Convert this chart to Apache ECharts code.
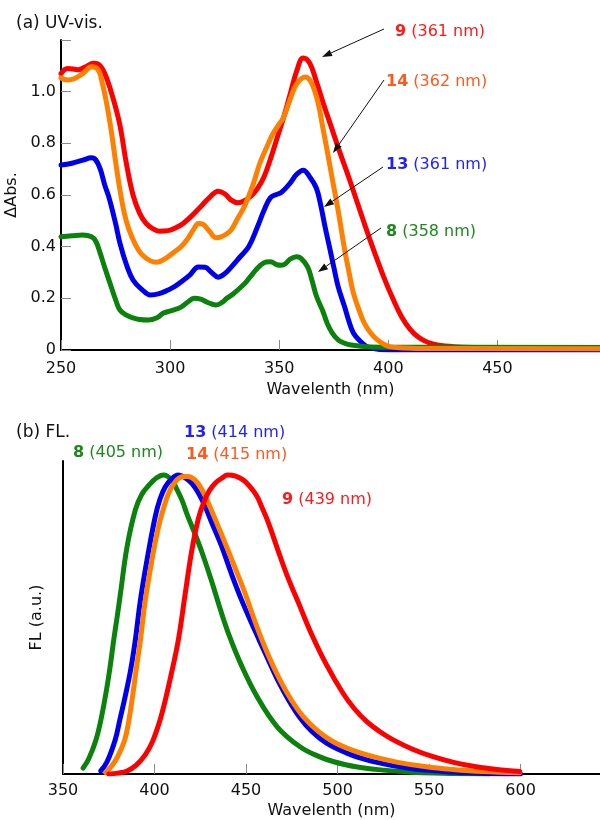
<!DOCTYPE html>
<html><head><meta charset="utf-8">
<script src="https://cdn.jsdelivr.net/npm/echarts@6/dist/echarts.min.js"></script>
<style>html,body{margin:0;padding:0;background:#fff}#c{width:600px;height:820px}</style>
</head><body><div id="c"></div>
<script>
// ---- Data (a) UV-vis: [wavelength nm, ΔAbs] ----
const uv9 = [[250,1.07],[253,1.09],[258,1.085],[261,1.095],[265,1.11],[268,1.10],[271,1.05],[274,0.97],[277,0.87],[280,0.72],[283,0.60],[286,0.53],[289,0.49],[292,0.47],[295,0.46],[299,0.462],[303,0.475],[306,0.49],[310,0.52],[314,0.555],[318,0.59],[322,0.615],[325,0.605],[328,0.58],[331,0.57],[334,0.578],[337,0.595],[340,0.625],[343,0.67],[346,0.74],[349,0.82],[352,0.90],[355,0.99],[358,1.08],[361,1.13],[364,1.11],[367,1.04],[370,0.96],[374,0.86],[378,0.76],[382,0.665],[386,0.565],[390,0.465],[394,0.37],[398,0.28],[402,0.20],[406,0.13],[410,0.08],[414,0.048],[418,0.03],[423,0.019],[430,0.013],[440,0.01],[460,0.008],[497,0.008]];
const uv14 = [[250,1.053],[253,1.045],[256,1.05],[260,1.07],[264,1.096],[267,1.085],[269,1.03],[271,0.95],[273,0.85],[275,0.73],[277,0.62],[279,0.53],[281,0.47],[284,0.41],[287,0.37],[291,0.345],[294,0.34],[298,0.355],[302,0.38],[305,0.40],[308,0.43],[311,0.47],[313,0.49],[315,0.487],[318,0.46],[321,0.435],[323,0.437],[326,0.45],[328,0.465],[331,0.51],[334,0.555],[338,0.64],[341,0.72],[344,0.78],[347,0.835],[350,0.875],[352,0.90],[355,0.97],[358,1.03],[362,1.057],[364,1.045],[366,1.01],[368,0.95],[370,0.86],[372,0.77],[374,0.677],[377,0.54],[380,0.387],[382,0.30],[384,0.22],[387,0.145],[389,0.104],[392,0.065],[395,0.039],[398,0.022],[401,0.012],[407,0.008],[413,0.006],[497,0.005]];
const uv13 = [[250,0.716],[255,0.723],[260,0.735],[264,0.744],[266,0.735],[268,0.70],[270,0.64],[272,0.59],[275,0.49],[277,0.414],[280,0.33],[283,0.271],[287,0.235],[291,0.213],[295,0.218],[299,0.232],[302,0.245],[305,0.263],[309,0.29],[313,0.321],[316,0.32],[319,0.30],[322,0.282],[325,0.295],[328,0.321],[332,0.36],[336,0.40],[340,0.476],[343,0.54],[346,0.59],[349,0.603],[351,0.61],[355,0.646],[358,0.68],[361,0.696],[364,0.67],[367,0.627],[369,0.561],[371,0.477],[373,0.40],[375,0.321],[377,0.245],[380,0.166],[382,0.11],[384,0.066],[387,0.035],[390,0.014],[394,0.005],[398,0.001],[406,0],[497,0]];
const uv8 = [[250,0.438],[255,0.442],[260,0.445],[264,0.438],[266,0.42],[268,0.374],[270,0.32],[273,0.245],[275,0.195],[277,0.155],[280,0.135],[283,0.124],[286,0.118],[290,0.116],[294,0.125],[297,0.143],[301,0.153],[305,0.166],[308,0.185],[311,0.2],[314,0.197],[317,0.185],[321,0.174],[324,0.185],[326,0.2],[329,0.218],[332,0.24],[335,0.265],[338,0.297],[341,0.325],[344,0.341],[346,0.342],[349,0.33],[351,0.328],[353,0.335],[355,0.352],[358,0.361],[360,0.355],[363,0.322],[365,0.27],[367,0.21],[370,0.15],[372,0.103],[374,0.07],[377,0.039],[380,0.026],[383,0.019],[390,0.013],[400,0.011],[497,0.01]];

// ---- Data (b) FL: [wavelength nm, normalized FL] ----
const fl8 = [[361,0.02],[364,0.05],[368,0.114],[371,0.19],[374,0.29],[376,0.37],[377.7,0.448],[379.6,0.526],[381.4,0.604],[385,0.76],[389.5,0.883],[393,0.935],[396.8,0.965],[401,0.99],[405,1.0],[409.5,0.983],[412,0.955],[415,0.916],[418,0.865],[422,0.805],[426,0.74],[431,0.649],[436,0.55],[441,0.46],[447,0.37],[456,0.259],[467,0.158],[479.5,0.091],[490,0.058],[498,0.041],[510,0.024],[525,0.013],[540,0.006],[552,0.003],[583,0]];
const fl13 = [[370.6,0.01],[374,0.04],[378.5,0.114],[381,0.18],[384,0.26],[387,0.35],[389.5,0.448],[392.3,0.582],[395.9,0.716],[400.4,0.861],[403,0.92],[405.9,0.961],[409,0.985],[413,1.0],[417,0.99],[420.4,0.972],[424,0.94],[427.7,0.894],[432,0.83],[436.8,0.76],[442,0.67],[447.7,0.58],[455,0.478],[461,0.397],[467,0.318],[473,0.25],[479.5,0.188],[486,0.142],[494,0.103],[505,0.07],[516,0.047],[530,0.028],[543,0.016],[557,0.009],[570,0.004],[585,0.001],[600,0]];
const fl14 = [[373.3,0.005],[377,0.03],[380,0.06],[383.7,0.114],[386,0.18],[388,0.26],[390,0.35],[392.3,0.448],[395,0.582],[398.6,0.716],[402.2,0.827],[405,0.89],[407.7,0.939],[411,0.975],[415,0.994],[418,0.995],[422.2,0.983],[426,0.95],[429.5,0.905],[434,0.84],[438.6,0.772],[444,0.69],[449.5,0.604],[455.5,0.50],[462,0.40],[468.6,0.314],[475,0.245],[481.3,0.192],[489,0.145],[497.7,0.108],[508,0.08],[519.5,0.058],[533,0.039],[548.6,0.024],[563,0.015],[579.4,0.008],[599.5,0.004]];
const fl9 = [[375,0],[380,0.003],[385,0.01],[390,0.03],[395,0.065],[399,0.11],[403,0.18],[406,0.25],[409,0.33],[413,0.448],[416.8,0.604],[420.4,0.749],[424,0.855],[427,0.91],[430,0.948],[433,0.972],[436.8,0.99],[440,1.0],[444,0.997],[448.6,0.983],[452,0.962],[455.9,0.93],[458.5,0.895],[461.3,0.855],[464,0.81],[466.8,0.76],[472.2,0.668],[479.5,0.56],[486,0.465],[494,0.365],[503,0.27],[509,0.22],[516,0.175],[523,0.142],[530.4,0.114],[541,0.083],[552.2,0.058],[564,0.038],[575.8,0.024],[587,0.015],[599.5,0.008]];

// ---- Labels ----
const uvTitle = '(a) UV-vis.';
const flTitle = '(b) FL.';
const xName = 'Wavelenth (nm)';
const uvYName = '\u0394Abs.';
const flYName = 'FL (a.u.)';
const uvPeaks = [['9','(361 nm)'],['14','(362 nm)'],['13','(361 nm)'],['8','(358 nm)']];
const flPeaks = [['13','(414 nm)'],['14','(415 nm)'],['8','(405 nm)'],['9','(439 nm)']];

const FONT = '"DejaVu Sans", sans-serif';
const C = {r:'#ff0000', o:'#ff8000', b:'#0000f0', g:'#0b820b'};
const T = {r:'#ff1a1a', o:'#ff5a1e', b:'#1f1fff', g:'#1a8a1a'};

const chart = echarts.init(document.getElementById('c'), null, {renderer:'canvas'});

function line(name, data, color, xi, z){
  return {type:'line', name, data, xAxisIndex:xi, yAxisIndex:xi, showSymbol:false, smooth:0.4,
    lineStyle:{color, width:5, join:'round', cap:'round'}, itemStyle:{color}, z, animation:false, clip:true};
}
function arrow(x1,y1,x2,y2){
  const dx=x2-x1, dy=y2-y1, L=Math.hypot(dx,dy), ux=dx/L, uy=dy/L, hl=10, hw=3.5;
  const bx=x2-ux*hl, by=y2-uy*hl;
  return [
    {type:'line', shape:{x1,y1,x2:bx,y2:by}, style:{stroke:'#111', lineWidth:1}, z:50},
    {type:'polygon', shape:{points:[[x2,y2],[bx-uy*hw,by+ux*hw],[bx+uy*hw,by-ux*hw]]}, style:{fill:'#111'}, z:50}
  ];
}
function label(x,y,pair,color){
  return {type:'text', x, y, z:50, style:{text:'{b|'+pair[0]+'} '+pair[1], fill:color, font:'16px '+FONT,
    textVerticalAlign:'middle', rich:{b:{fontWeight:'bold', fontSize:16, fontFamily:FONT, fill:color}}}};
}
function plain(x,y,t){
  return {type:'text', x, y, z:50, style:{text:t, fill:'#111', font:'17px '+FONT, textVerticalAlign:'middle'}};
}

const axisCommon = {
  axisLine:{show:true, lineStyle:{color:'#000', width:2}},
  axisTick:{show:true, inside:true, length:10, lineStyle:{color:'#888', width:1}},
  splitLine:{show:false},
  axisLabel:{color:'#111', fontSize:16, fontFamily:FONT, showMaxLabel:false},
  nameTextStyle:{color:'#111', fontSize:16, fontFamily:FONT}
};

const option = {
  animation:false,
  backgroundColor:'#fff',
  grid:[
    {left:61, right:0, top:40, height:310, outerBoundsMode:'none', containLabel:false},
    {left:63, right:0, top:461, height:313, outerBoundsMode:'none', containLabel:false}
  ],
  xAxis:[
    Object.assign({}, axisCommon, {type:'value', gridIndex:0, min:250, max:497, interval:50,
      name:xName, nameLocation:'middle', nameGap:32,
      axisLabel:Object.assign({}, axisCommon.axisLabel, {margin:11, showMaxLabel:false})}),
    Object.assign({}, axisCommon, {type:'value', gridIndex:1, min:350, max:643.4, interval:50,
      name:xName, nameLocation:'middle', nameGap:29,
      axisLabel:Object.assign({}, axisCommon.axisLabel, {margin:9, showMaxLabel:false})})
  ],
  yAxis:[
    Object.assign({}, axisCommon, {type:'value', gridIndex:0, min:0, max:1.2, interval:0.2,
      name:uvYName, nameLocation:'middle', nameGap:31,
      axisLabel:Object.assign({}, axisCommon.axisLabel, {margin:5, showMaxLabel:true,
        formatter:v => v===0 ? '0' : (v>1.15 ? '' : v.toFixed(1))})}),
    Object.assign({}, axisCommon, {type:'value', gridIndex:1, min:0, max:1.047,
      name:flYName, nameLocation:'middle', nameGap:18,
      axisTick:{show:false}, axisLabel:{show:false}})
  ],
  series:[
    line('9', uv9, C.r, 0, 2),
    line('13', uv13, C.b, 0, 3),
    line('8', uv8, C.g, 0, 4),
    line('14', uv14, C.o, 0, 5),
    line('8', fl8, C.g, 1, 2),
    line('13', fl13, C.b, 1, 3),
    line('14', fl14, C.o, 1, 4),
    line('9', fl9, C.r, 1, 5)
  ],
  graphic:[
    plain(16, 24, uvTitle),
    plain(16, 433, flTitle),
    ...arrow(384,29,322,57),
    ...arrow(384,80,333,153),
    ...arrow(383,167,324,207),
    ...arrow(381,228,318,272),
    label(395, 32, uvPeaks[0], T.r),
    label(386, 82, uvPeaks[1], T.o),
    label(386, 165, uvPeaks[2], T.b),
    label(386, 232, uvPeaks[3], T.g),
    label(184, 433, flPeaks[0], T.b),
    label(186, 455, flPeaks[1], T.o),
    label(73, 453, flPeaks[2], T.g),
    label(282, 500, flPeaks[3], T.r)
  ]
};
chart.setOption(option);
</script>
</body></html>
